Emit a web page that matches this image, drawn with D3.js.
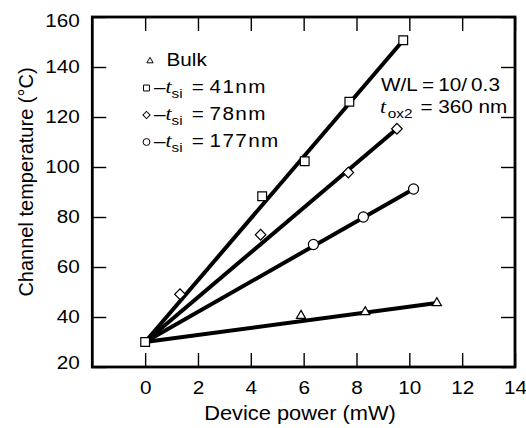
<!DOCTYPE html>
<html>
<head>
<meta charset="utf-8">
<script src="https://cdn.jsdelivr.net/npm/d3@7"></script>
<style>
  html, body { margin: 0; padding: 0; background: #fff; }
  svg { display: block; }
</style>
</head>
<body>
<svg id="chart" width="526" height="428"></svg>
<script>
// ---- data -------------------------------------------------------------
// shared starting point of every curve (zero power, ambient channel temperature)
const origin = { power: 0, temp: 30 };

// device power (mW) / channel temperature (°C) for each device type
const bulkPower   = [5.9, 8.33, 11.04];
const bulkTemp    = [40.5, 42.0, 45.6];

const si41Power   = [4.43, 6.04, 7.73, 9.77];
const si41Temp    = [88.3, 102.3, 126.1, 150.7];

const si78Power   = [1.32, 4.37, 7.69, 9.53];
const si78Temp    = [49.1, 72.9, 97.8, 115.3];

const si177Power  = [6.37, 8.26, 10.16];
const si177Temp   = [69.0, 80.0, 91.2];

const xTickValues = [0, 2, 4, 6, 8, 10, 12, 14];
const yTickValues = [20, 40, 60, 80, 100, 120, 140, 160];

const seriesNames = ["Bulk", "41nm", "78nm", "177nm"];
const seriesShape = ["triangle", "square", "diamond", "circle"];

// ---- setup ------------------------------------------------------------
const svg = d3.select("#chart");
const SANS = "'Liberation Sans', Arial, Helvetica, sans-serif";
const SERIF = "'Liberation Serif', 'Times New Roman', serif";
const SX = 1.12;           // typeset text is slightly wide
const FS = 18.5;

const x = d3.scaleLinear().domain([-2, 14]).range([92.3, 515]);
const y = d3.scaleLinear().domain([20, 160]).range([367, 17]);

const zip = (p, t) => p.map((v, i) => ({ power: v, temp: t[i] }));
const series = [
  zip(bulkPower, bulkTemp),
  zip(si41Power, si41Temp),
  zip(si78Power, si78Temp),
  zip(si177Power, si177Temp)
];

// ---- axes: inward ticks on all four sides -----------------------------
const tickLen = 14;
const styleTicks = s => {
  s.select(".domain").remove();
  s.selectAll(".tick line").attr("stroke", "#000").attr("stroke-width", 1.4);
};

svg.append("g")
  .attr("transform", `translate(0,${y(20)})`)
  .call(d3.axisBottom(x).tickValues(xTickValues).tickSize(-tickLen).tickPadding(13.5))
  .call(styleTicks)
  .call(s => s.selectAll("text")
    .attr("font-family", SANS).attr("font-size", FS).attr("fill", "#000")
    .attr("transform", `scale(${SX},1)`));

svg.append("g")
  .attr("transform", `translate(0,${y(160)})`)
  .call(d3.axisTop(x).tickValues(xTickValues).tickSize(-tickLen).tickFormat(""))
  .call(styleTicks);

svg.append("g")
  .attr("transform", `translate(${x(-2)},0)`)
  .call(d3.axisLeft(y).tickValues(yTickValues).tickSize(-tickLen).tickPadding(0))
  .call(styleTicks)
  .call(s => s.selectAll("text")
    .attr("font-family", SANS).attr("font-size", FS).attr("fill", "#000")
    .attr("x", 0)
    .attr("transform", d => {
      const nudge = d === 160 ? 4 : d === 20 ? -4.5 : 0;
      return `translate(-12.5,${nudge}) scale(${SX},1)`;
    }));

svg.append("g")
  .attr("transform", `translate(${x(14)},0)`)
  .call(d3.axisRight(y).tickValues(yTickValues).tickSize(-tickLen).tickFormat(""))
  .call(styleTicks);

// plot frame
svg.append("rect")
  .attr("x", x(-2)).attr("y", y(160))
  .attr("width", x(14) - x(-2)).attr("height", y(20) - y(160))
  .attr("fill", "none").attr("stroke", "#000").attr("stroke-width", 2.8);

// ---- axis titles ------------------------------------------------------
svg.append("text")
  .attr("transform", `translate(300,420) scale(${SX},1)`)
  .attr("text-anchor", "middle")
  .attr("font-family", SANS).attr("font-size", 19.5)
  .text("Device power (mW)");

svg.append("text")
  .attr("transform", "translate(33,182) rotate(-90)")
  .attr("text-anchor", "middle")
  .attr("font-family", SANS).attr("font-size", 20)
  .text("Channel temperature (°C)");

// ---- markers ----------------------------------------------------------
function marker(shape, scale) {
  const k = scale || 1;
  switch (shape) {
    case "triangle": return { path: d3.symbol(d3.symbolTriangle, 37 * k * k)(), rot: 0 };
    case "square":   return { path: d3.symbol(d3.symbolSquare, 76 * k * k)(), rot: 0 };
    case "diamond":  return { path: d3.symbol(d3.symbolSquare, 56 * k * k)(), rot: 45 };
    default:         return { path: d3.symbol(d3.symbolCircle, 80 * k * k)(), rot: 0 };
  }
}

// ---- fitted lines: from the common start point to the last measurement
const lineGen = d3.line().x(d => x(d.power)).y(d => y(d.temp));
svg.append("g")
  .selectAll("path")
  .data(series)
  .join("path")
  .attr("d", s => lineGen([origin, s[s.length - 1]]))
  .attr("fill", "none")
  .attr("stroke", "#000")
  .attr("stroke-width", 4)
  .attr("stroke-linecap", "butt");

// data points
series.forEach((s, i) => {
  const m = marker(seriesShape[i]);
  svg.append("g").selectAll("path")
    .data(s)
    .join("path")
    .attr("d", m.path)
    .attr("transform", d => `translate(${x(d.power)},${y(d.temp)}) rotate(${m.rot})`)
    .attr("fill", "#fff").attr("stroke", "#000").attr("stroke-width", 1.2);
});

// common start point (square)
{
  const m = marker("square");
  svg.append("path")
    .attr("d", m.path)
    .attr("transform", `translate(${x(origin.power)},${y(origin.temp)})`)
    .attr("fill", "#fff").attr("stroke", "#000").attr("stroke-width", 1.2);
}

// ---- legend -----------------------------------------------------------
const legend = svg.append("g");
const rowY = [66, 93, 120, 147];
seriesNames.forEach((name, i) => {
  const m = marker(seriesShape[i], 0.68);
  legend.append("path")
    .attr("d", m.path)
    .attr("transform", `translate(${i === 0 ? 150 : 146.5},${rowY[i] - 5}) rotate(${m.rot})`)
    .attr("fill", "#fff").attr("stroke", "#000").attr("stroke-width", 1);

  if (i === 0) {
    legend.append("text")
      .attr("transform", `translate(166.5,${rowY[i]}) scale(${SX},1)`)
      .attr("font-family", SANS).attr("font-size", FS)
      .text(name);
  } else {
    const t = legend.append("text")
      .attr("transform", `translate(154,${rowY[i]}) scale(${SX},1)`)
      .attr("font-family", SANS).attr("font-size", FS);
    t.append("tspan").text("\u2013");
    t.append("tspan").attr("font-family", SERIF).attr("font-style", "italic")
      .attr("font-size", FS + 1).text("t");
    t.append("tspan").attr("font-size", FS * 0.74).attr("dy", 5).text("si");
    t.append("tspan").attr("dy", -5).attr("dx", 3).text(" = ");
    t.append("tspan").attr("letter-spacing", 1.2).text(name);
  }
});

// ---- device annotation ------------------------------------------------
svg.append("text")
  .attr("transform", `translate(381,90.7) scale(${SX},1)`)
  .attr("font-family", SANS).attr("font-size", FS)
  .text("W/L\u2009=\u200910/\u20090.3");

{
  const t = svg.append("text")
    .attr("transform", `translate(380,113.3) scale(${SX},1)`)
    .attr("font-family", SANS).attr("font-size", FS);
  t.append("tspan").attr("font-family", SERIF).attr("font-style", "italic")
    .attr("font-size", FS + 1).text("t");
  t.append("tspan").attr("font-size", FS * 0.74).attr("dy", 5).attr("dx", 1.5).text("ox2");
  t.append("tspan").attr("dy", -5).attr("dx", 2).text(" = 360 nm");
}
</script>
</body>
</html>
